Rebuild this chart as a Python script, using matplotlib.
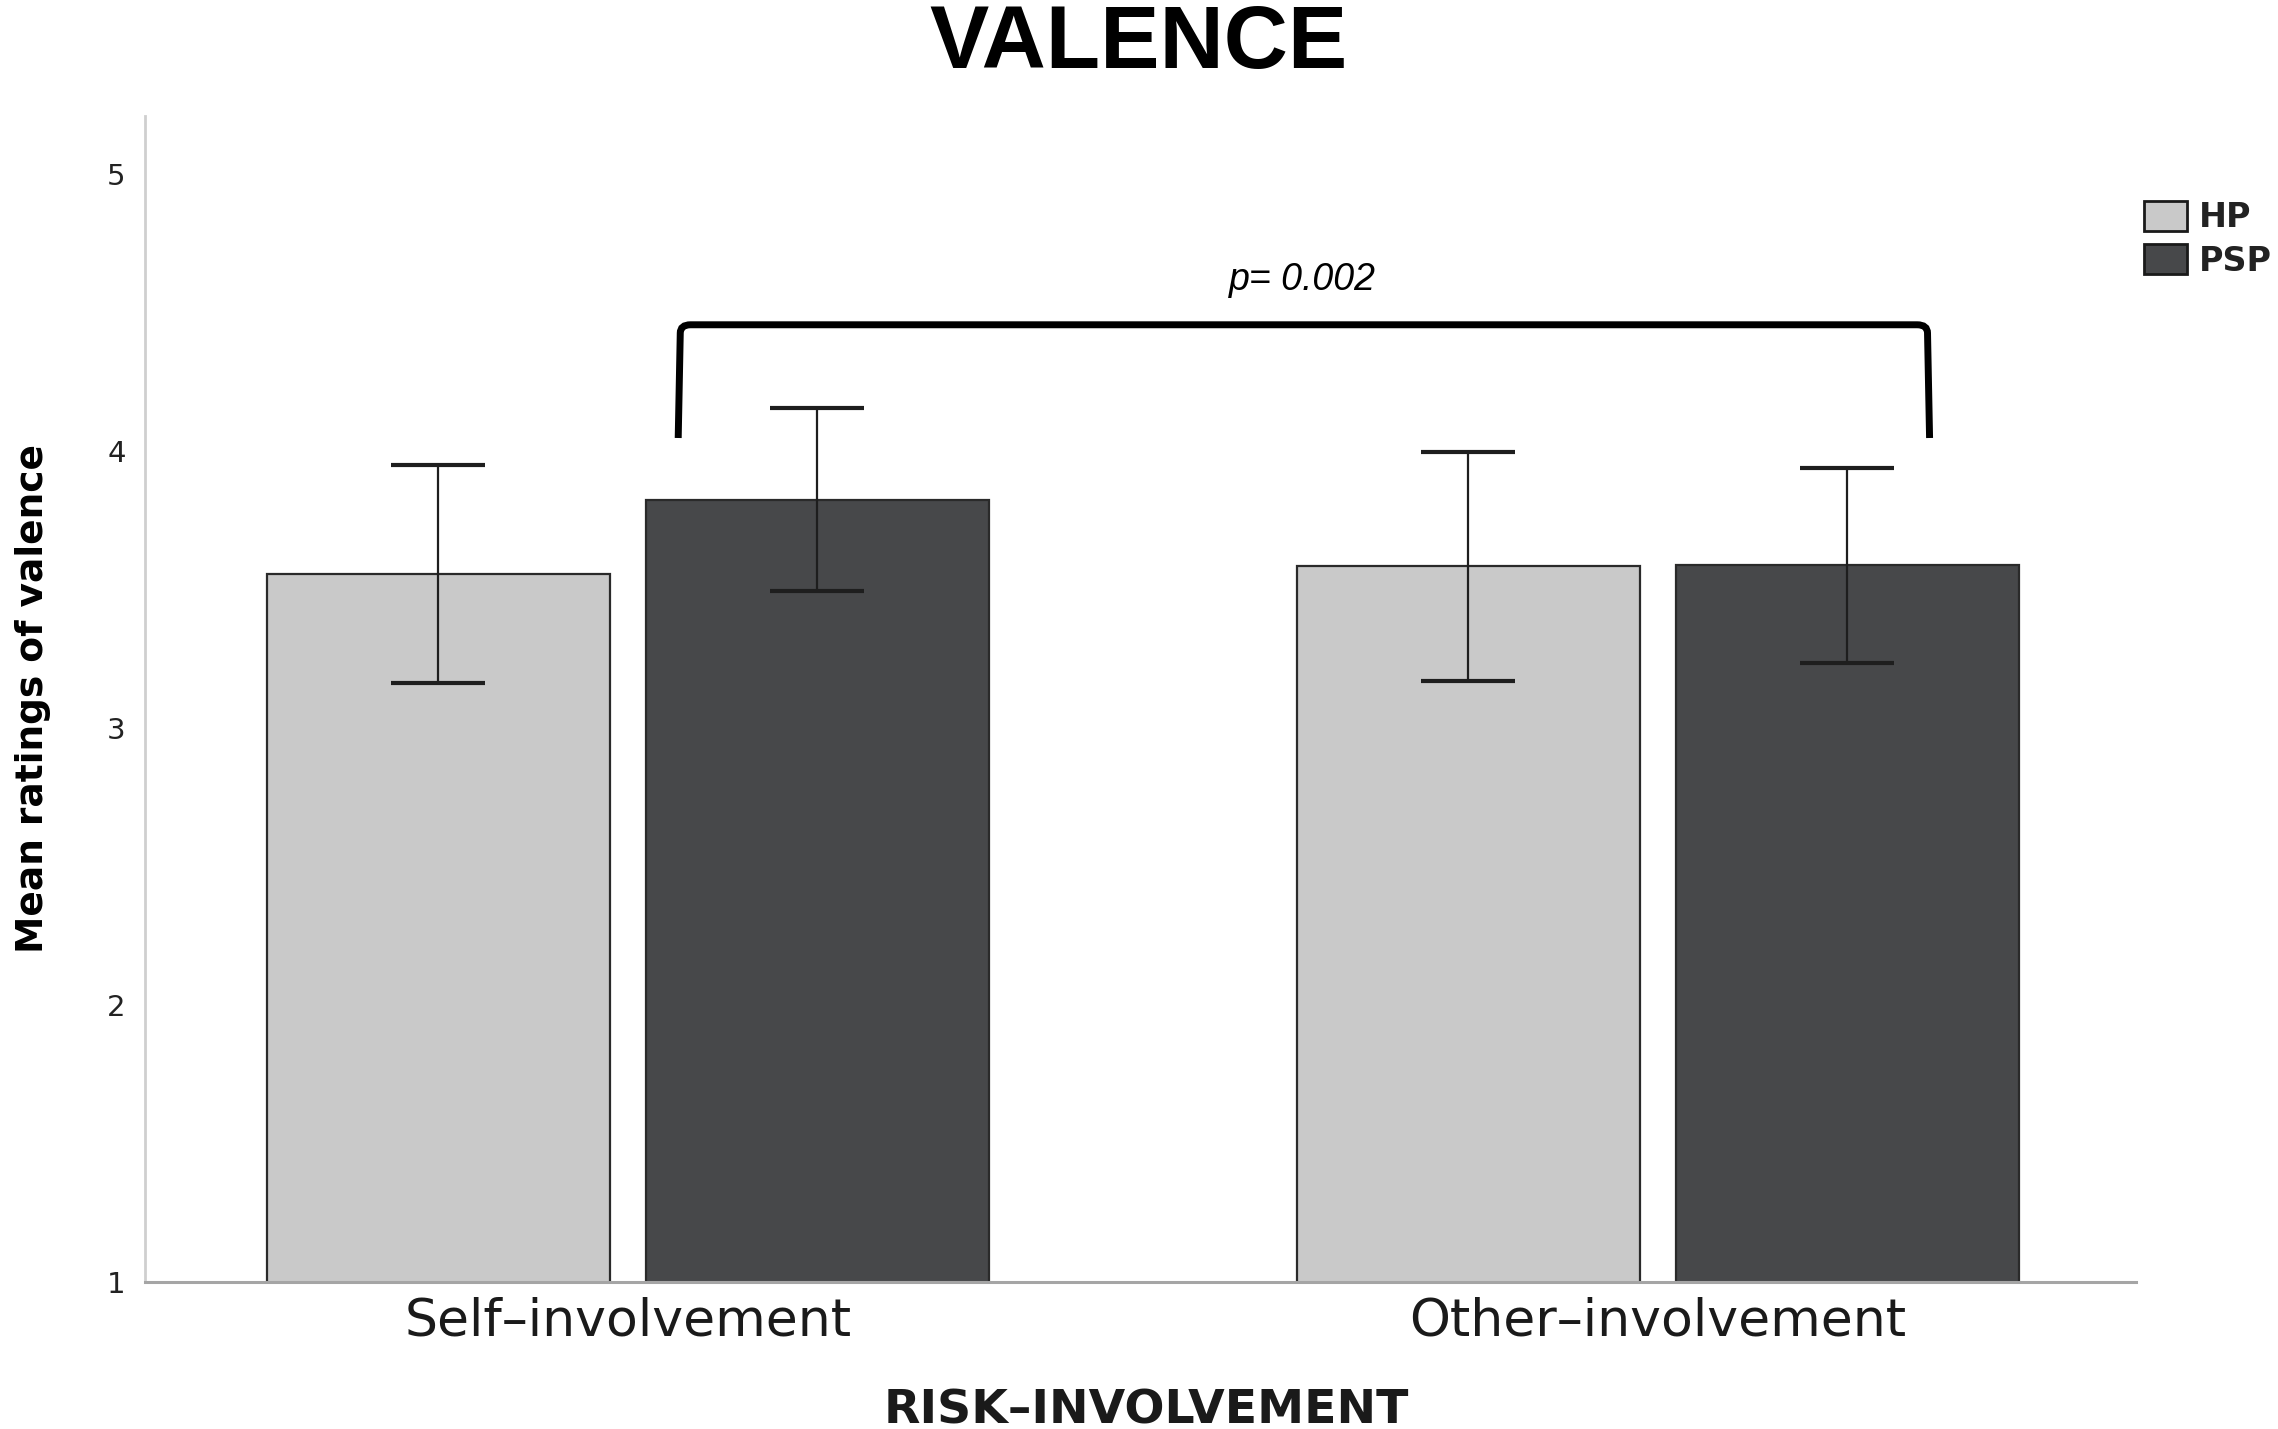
import matplotlib
matplotlib.use("Agg")
import matplotlib.pyplot as plt
import numpy as np
from matplotlib.patches import Patch, PathPatch
from matplotlib.path import Path

categories = ["Self\u2013involvement", "Other\u2013involvement"]
groups = ["HP", "PSP"]
hp_means = [3.556, 3.583]
hp_err = [0.393, 0.412]
psp_means = [3.824, 3.588]
psp_err = [0.331, 0.352]
yticks = [1, 2, 3, 4, 5]
p_label = "p= 0.002"

hp_color = "#c9c9c9"
psp_color = "#47484a"
edge = "#2a2a2a"

fig = plt.figure(figsize=(22.78, 14.29), dpi=100)
ax = fig.add_axes([0.0637, 0.1032, 0.874, 0.8156])

x = np.arange(len(categories))
w = 0.333
off = 0.184
ekw = dict(ecolor="#1e1e1e", elinewidth=1.6, capsize=34, capthick=3)
ax.bar(x - off, hp_means, w, color=hp_color, edgecolor=edge, linewidth=1.6, zorder=2)
ax.bar(x + off, psp_means, w, color=psp_color, edgecolor=edge, linewidth=1.6, zorder=2)
ax.errorbar(x - off, hp_means, yerr=hp_err, fmt="none", zorder=3, **ekw)
ax.errorbar(x + off, psp_means, yerr=psp_err, fmt="none", zorder=3, **ekw)

ax.set_xlim(-0.4686, 1.4645)
ax.set_ylim(1, 5.21)
ax.set_yticks(yticks)
ax.set_yticklabels([str(t) for t in yticks], fontsize=21, family="DejaVu Sans", color="#222222")
ax.set_xticks(x)
ax.set_xticklabels(categories, fontsize=37.5, family="DejaVu Sans", color="#1a1a1a")
ax.tick_params(axis="y", length=0, pad=14)
ax.tick_params(axis="x", length=0, pad=11)
for s in ["top", "right"]:
    ax.spines[s].set_visible(False)
ax.spines["left"].set_color("#cfcfcf")
ax.spines["left"].set_linewidth(2)
ax.spines["bottom"].set_color("#a5a5a5")
ax.spines["bottom"].set_linewidth(2.2)

# significance bracket
xl, xr = 0.049, 1.264
yb, yt = 4.047, 4.456
r = 0.012
verts = [(xl, yb), (xl + 0.002, yt - 0.03), (xl + 0.002, yt), (xl + r, yt),
         (xr - r, yt), (xr - 0.002, yt), (xr - 0.002, yt - 0.03), (xr, yb)]
codes = [Path.MOVETO, Path.LINETO, Path.CURVE3, Path.CURVE3,
         Path.LINETO, Path.CURVE3, Path.CURVE3, Path.LINETO]
ax.add_patch(PathPatch(Path(verts, codes), facecolor="none", edgecolor="black",
                       linewidth=5, capstyle="butt", zorder=4))
ax.text(0.655, 4.58, p_label, ha="center", va="baseline", fontsize=27,
        family="Liberation Sans", style="italic")

fig.text(0.5, 1 - 68 / 1429, "VALENCE", ha="center", va="baseline", fontsize=64,
         family="Liberation Sans", weight="bold")
fig.text(33 / 2278, 0.511, "Mean ratings of valence", rotation=90, ha="center",
         va="center", fontsize=27, family="DejaVu Sans", weight="bold")
fig.text(0.503, 6 / 1429, "RISK\u2013INVOLVEMENT", ha="center", va="baseline",
         fontsize=34, family="DejaVu Sans", weight="bold", color="#1a1a1a")

handles = [Patch(facecolor=hp_color, edgecolor="#1a1a1a", linewidth=2),
           Patch(facecolor=psp_color, edgecolor="#1a1a1a", linewidth=2)]
leg = fig.legend(handles, groups, loc="upper left", bbox_to_anchor=(2144 / 2278, 1 - 201 / 1429),
                 frameon=False, borderpad=0, borderaxespad=0, handlelength=1.3,
                 handleheight=1.0, handletextpad=0.35, labelspacing=0.3,
                 prop=dict(family="DejaVu Sans", weight="bold", size=24))
for t in leg.get_texts():
    t.set_color("#222222")

fig.savefig("out.png", dpi=100)
